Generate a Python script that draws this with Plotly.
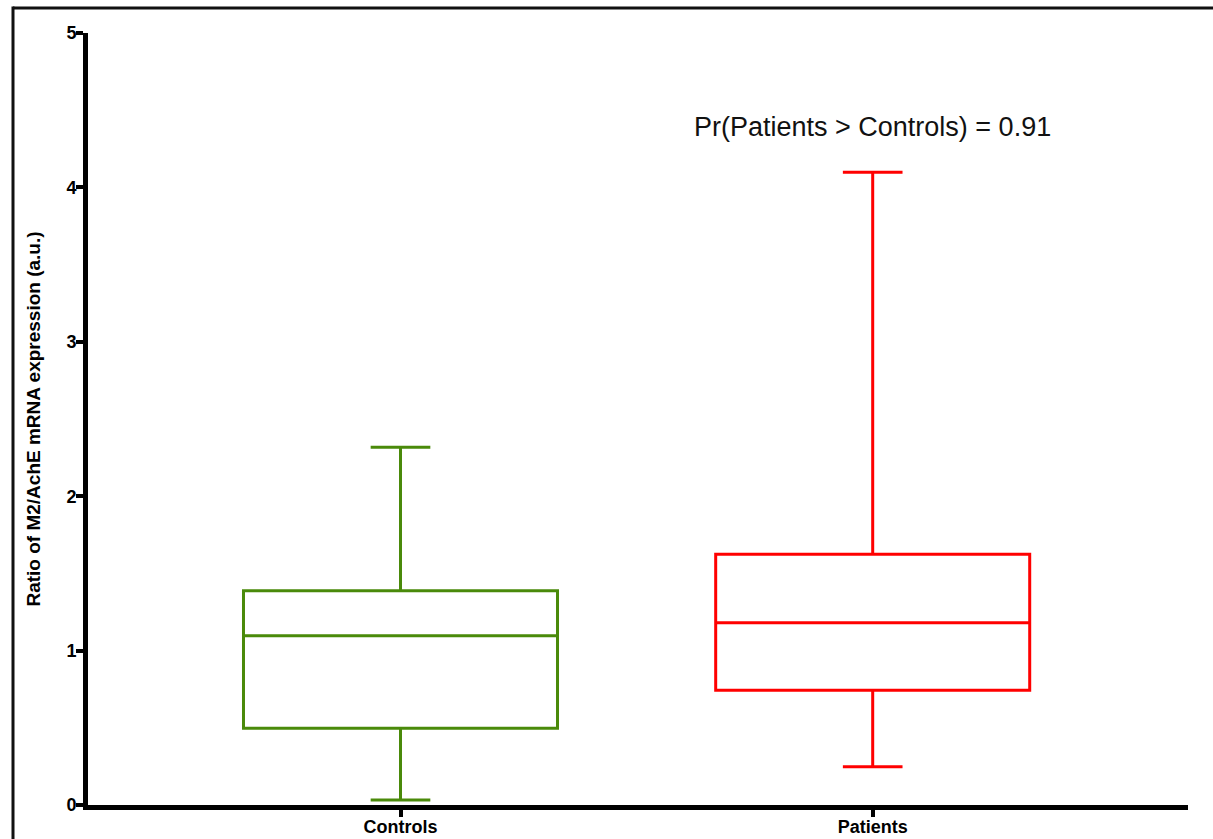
import plotly.graph_objects as go

categories = ["Controls", "Patients"]
lower_whisker = [0.032, 0.248]
q1 = [0.497, 0.743]
median = [1.096, 1.181]
q3 = [1.388, 1.624]
upper_whisker = [2.317, 4.098]
colors = ["#4a8a0a", "#ff0000"]
y_ticks = [0, 1, 2, 3, 4, 5]
annotation_text = "Pr(Patients > Controls) = 0.91"

fig = go.Figure()
for i, cat in enumerate(categories):
    fig.add_trace(go.Box(
        x=[cat],
        q1=[q1[i]], median=[median[i]], q3=[q3[i]],
        lowerfence=[lower_whisker[i]], upperfence=[upper_whisker[i]],
        boxpoints=False,
        width=0.665,
        whiskerwidth=0.19,
        line=dict(color=colors[i], width=3),
        fillcolor="rgba(255,255,255,0)",
        showlegend=False,
        hoverinfo="skip",
    ))

FONT = "Liberation Sans, Arial, sans-serif"
bold = dict(family=FONT, size=18, color="black", weight="bold")

L, R, T, B = 88, 25, 33, 34
plot_w = 1213 - L - R
plot_h = 839 - T - B
px_per_cat = 472.2
x_left = (L - 400.5) / px_per_cat
x_right = x_left + plot_w / px_per_cat

frame_x = (13 - L) / plot_w
frame_y = (839 - B - 8) / plot_h

fig.update_layout(
    width=1213, height=839,
    margin=dict(l=L, r=R, t=T, b=B),
    paper_bgcolor="white", plot_bgcolor="white",
    boxmode="overlay",
    xaxis=dict(
        type="category",
        range=[x_left, x_right],
        automargin=False,
        showgrid=False, zeroline=False,
        showline=True, linecolor="black", linewidth=5,
        ticks="outside", ticklen=7, tickwidth=4, tickcolor="black",
        tickfont=bold,
        ticklabelstandoff=-6,
    ),
    yaxis=dict(
        range=[0, 5],
        tickvals=y_ticks,
        automargin=False,
        showgrid=False, zeroline=False,
        showline=True, linecolor="black", linewidth=5,
        ticks="outside", ticklen=7, tickwidth=4, tickcolor="black",
        tickfont=bold,
        ticklabelstandoff=-4,
        title=dict(text="Ratio of M2/AchE mRNA expression (a.u.)",
                   font=dict(family=FONT, size=19, color="black", weight="bold"),
                   standoff=22),
    ),
    annotations=[dict(
        x="Patients", y=4.39, xref="x", yref="y",
        text=annotation_text, showarrow=False,
        font=dict(family=FONT, size=27, color="#111111"),
        xanchor="center", yanchor="middle",
    )],
    shapes=[
        dict(type="line", xref="paper", yref="paper",
             x0=frame_x, x1=1.2, y0=frame_y, y1=frame_y,
             line=dict(color="#111111", width=3), layer="below"),
        dict(type="line", xref="paper", yref="paper",
             x0=frame_x, x1=frame_x, y0=-0.2, y1=frame_y + 0.002,
             line=dict(color="#111111", width=3), layer="below"),
    ],
)

fig.write_html("out.html",
               config={"displayModeBar": False},
               post_script="document.body.style.margin='0';document.body.style.overflow='hidden';")
